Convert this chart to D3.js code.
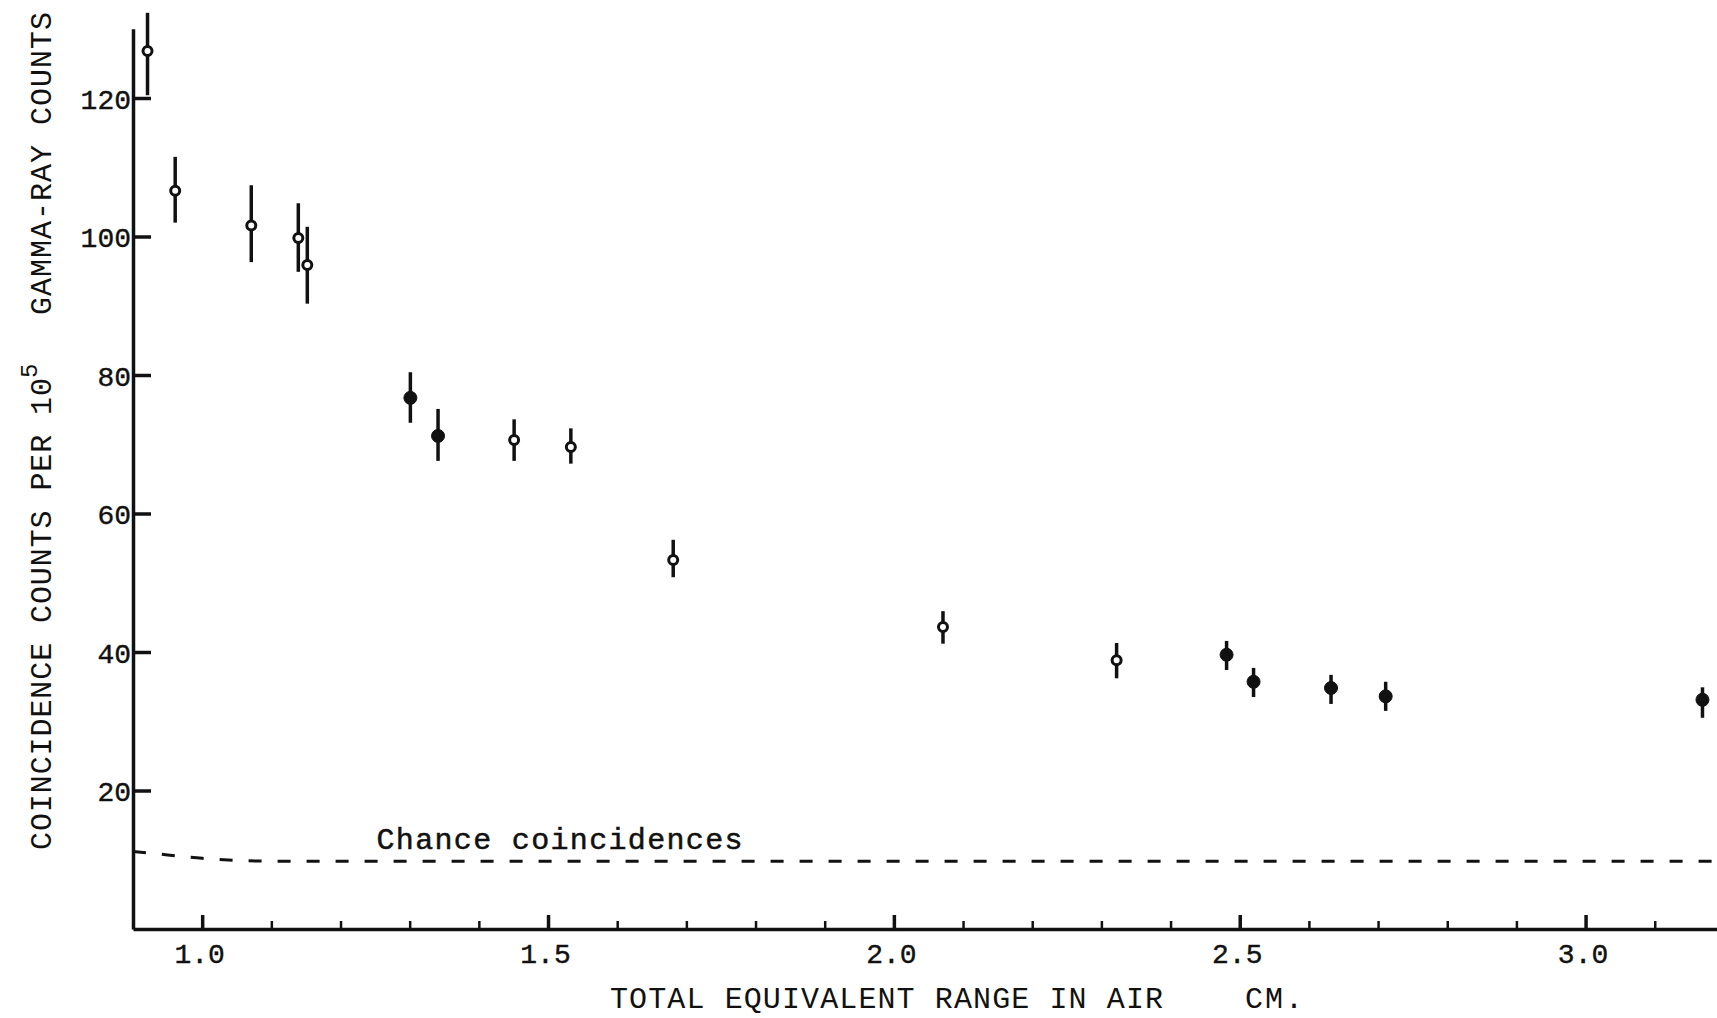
<!DOCTYPE html>
<html><head><meta charset="utf-8">
<script src="https://cdn.jsdelivr.net/npm/d3@7"></script>
<style>
html,body{margin:0;padding:0;background:#fff;}
svg{display:block;}
text{font-family:"Liberation Mono","DejaVu Sans Mono",monospace;fill:#111;}
</style></head>
<body>
<svg id="chart" width="1717" height="1018"></svg>
<script>
// Data
const rangeCm   = [0.921, 0.961, 1.071, 1.139, 1.152, 1.301, 1.341, 1.451, 1.533, 1.681, 2.071, 2.322, 2.481, 2.520, 2.632, 2.711, 3.169];
const counts    = [126.8, 106.6, 101.6, 99.8, 95.9, 76.7, 71.2, 70.6, 69.6, 53.3, 43.6, 38.8, 39.6, 35.7, 34.8, 33.6, 33.1];
const errHigh   = [132.3, 111.5, 107.4, 104.8, 101.4, 80.4, 75.1, 73.6, 72.3, 56.2, 45.9, 41.3, 41.6, 37.7, 36.7, 35.7, 34.9];
const errLow    = [120.4, 102.0, 96.3, 94.9, 90.3, 73.1, 67.6, 67.6, 67.2, 50.8, 41.2, 36.2, 37.4, 33.5, 32.5, 31.5, 30.5];
const filledPt  = [0,0,0,0,0,1,1,0,0,0,0,0,1,1,1,1,1];
const chanceX   = [0.9, 0.95, 1.0, 1.05, 1.1, 3.19];
const chanceY   = [11.2, 10.7, 10.2, 9.9, 9.8, 9.8];
const xMajorTicks = [1.0, 1.5, 2.0, 2.5, 3.0];
const xMajorLabels = ["1.0", "1.5", "2.0", "2.5", "3.0"];
const xMinorTicks = [1.1,1.2,1.3,1.4,1.6,1.7,1.8,1.9,2.1,2.2,2.3,2.4,2.6,2.7,2.8,2.9,3.1];
const yTicks = [20, 40, 60, 80, 100, 120];
const xTitle = "TOTAL EQUIVALENT RANGE IN AIR";
const xUnit = "CM.";
const yTitleA = "COINCIDENCE COUNTS PER 10";
const yTitleSup = "5";
const yTitleB = "GAMMA-RAY COUNTS";
const chanceLabel = "Chance coincidences";

const svg = d3.select("#chart");
const x = d3.scaleLinear().domain([0.9, 3.19]).range([133, 1717]);
const y = d3.scaleLinear().domain([0, 130]).range([929, 28.75]);

// Minor x ticks
const gMinor = svg.append("g").attr("transform", `translate(0,${y(0)})`)
  .call(d3.axisBottom(x).tickValues(xMinorTicks).tickSizeInner(-8).tickSizeOuter(0).tickFormat(""));
gMinor.select(".domain").remove();
gMinor.selectAll(".tick line").attr("stroke", "#111").attr("stroke-width", 2.5);

// Major x axis
const gx = svg.append("g").attr("transform", `translate(0,${y(0)})`)
  .call(d3.axisBottom(x).tickValues(xMajorTicks).tickSizeInner(-14).tickSizeOuter(0)
        .tickFormat((d,i) => xMajorLabels[i]));
gx.select(".domain").attr("stroke", "#111").attr("stroke-width", 3.5);
gx.selectAll(".tick line").attr("stroke", "#111").attr("stroke-width", 3.5);
gx.selectAll(".tick text").attr("y", 34).attr("dy", 0).attr("font-size", 28)
  .attr("font-family", "Liberation Mono").attr("fill", "#111").attr("dx", -3)
  .attr("stroke", "#111").attr("stroke-width", 0.4);

// y axis
const gy = svg.append("g").attr("transform", `translate(${x(0.9)},0)`)
  .call(d3.axisLeft(y).tickValues(yTicks).tickSizeInner(-18).tickSizeOuter(0).tickPadding(2));
gy.select(".domain").attr("stroke", "#111").attr("stroke-width", 3.5);
gy.selectAll(".tick line").attr("stroke", "#111").attr("stroke-width", 3.5);
gy.selectAll(".tick text").attr("font-size", 28).attr("font-family", "Liberation Mono")
  .attr("fill", "#111").attr("dy", "0.36em").attr("stroke", "#111").attr("stroke-width", 0.4);

// Chance coincidence dashed curve
const chance = chanceX.map((v,i) => [v, chanceY[i]]);
svg.append("path").datum(chance)
  .attr("d", d3.line().x(d => x(d[0])).y(d => y(d[1])).curve(d3.curveMonotoneX))
  .attr("fill", "none").attr("stroke", "#111").attr("stroke-width", 3)
  .attr("stroke-dasharray", "13,16");
svg.append("text").attr("x", x(1.252)).attr("y", y(11.6)).attr("font-size", 30)
  .attr("stroke", "#111").attr("stroke-width", 0.5)
  .attr("textLength", 366).attr("lengthAdjust", "spacing").text(chanceLabel);

// Points with error bars
const pts = rangeCm.map((v,i) => ({x: v, y: counts[i], hi: errHigh[i], lo: errLow[i], f: filledPt[i]}));
const gp = svg.append("g");
gp.selectAll("line.err").data(pts).join("line").attr("class", "err")
  .attr("x1", d => x(d.x)).attr("x2", d => x(d.x))
  .attr("y1", d => y(d.hi)).attr("y2", d => y(d.lo))
  .attr("stroke", "#111").attr("stroke-width", 3.5);
gp.selectAll("circle").data(pts).join("circle")
  .attr("cx", d => x(d.x)).attr("cy", d => y(d.y))
  .attr("r", d => d.f ? 6.5 : 4.5)
  .attr("fill", d => d.f ? "#111" : "#fff")
  .attr("stroke", "#111").attr("stroke-width", d => d.f ? 1 : 3);

// Axis titles
svg.append("text").attr("x", 610).attr("y", 1008).attr("font-size", 30)
  .attr("textLength", 553).attr("lengthAdjust", "spacing").text(xTitle);
svg.append("text").attr("x", 1245).attr("y", 1008).attr("font-size", 30)
  .attr("textLength", 58).attr("lengthAdjust", "spacing").text(xUnit);

const yt = svg.append("g").attr("transform", "translate(51,0) rotate(-90)");
yt.append("text").attr("x", -850).attr("y", 0).attr("font-size", 30)
  .attr("textLength", 472).attr("lengthAdjust", "spacing").text(yTitleA);
yt.append("text").attr("x", -378).attr("y", -14).attr("font-size", 24).text(yTitleSup);
yt.append("text").attr("x", -315).attr("y", 0).attr("font-size", 30)
  .attr("textLength", 303).attr("lengthAdjust", "spacing").text(yTitleB);
</script>
</body></html>
